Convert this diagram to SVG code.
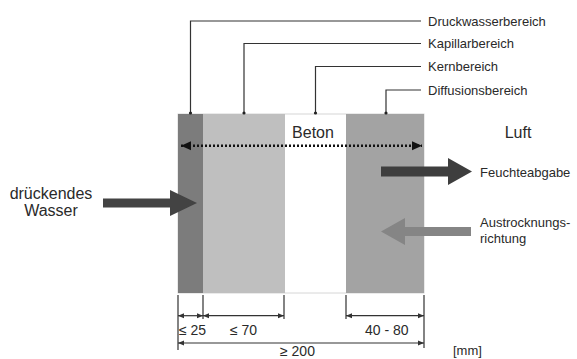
<svg xmlns="http://www.w3.org/2000/svg" width="577" height="359" viewBox="0 0 577 359">
<defs>
<style>
text{font-family:"Liberation Sans",Arial,sans-serif;fill:#2a2a2a}
.lbl{font-size:13px}
.big{font-size:16px}
.dim{font-size:14px}
.lead{fill:none;stroke:#333;stroke-width:1.2}
.dl{stroke:#333;stroke-width:1.2;fill:none}
</style>
<marker id="da" viewBox="0 0 6 6" refX="6" refY="3" markerWidth="6" markerHeight="6" markerUnits="userSpaceOnUse" orient="auto-start-reverse">
<path d="M0,0.5 L6,3 L0,5.5 Z" fill="#333"/>
</marker>
<marker id="ba" viewBox="0 0 10 10" refX="10" refY="5" markerWidth="10" markerHeight="10" markerUnits="userSpaceOnUse" orient="auto-start-reverse">
<path d="M0,0.5 L10,5 L0,9.5 Z" fill="#111"/>
</marker>
</defs>
<rect width="577" height="359" fill="#fff"/>
<g id="wall">
<rect x="178" y="114" width="246" height="179" fill="#fff" stroke="#d6d6d6" stroke-width="1"/>
<rect x="178" y="114" width="25" height="179" fill="#7c7c7c"/>
<rect x="203" y="114" width="82" height="179" fill="#bfbfbf"/>
<rect x="346" y="114" width="78" height="179" fill="#a3a3a3"/>
</g>
<g id="connectors">
<path class="lead" d="M190.5,114 V21 H421"/>
<path class="lead" d="M244,114 V43.5 H421"/>
<path class="lead" d="M315.5,114 V66.5 H421"/>
<path class="lead" d="M386,114 V90 H421"/>
<circle cx="190.5" cy="113" r="1.6" fill="#222"/>
<circle cx="244" cy="113" r="1.6" fill="#222"/>
<circle cx="315.5" cy="113" r="1.6" fill="#222"/>
<circle cx="386" cy="113" r="1.6" fill="#222"/>
<line x1="181" y1="145.7" x2="422" y2="145.7" stroke="#111" stroke-width="2.5" stroke-dasharray="2 2" marker-start="url(#ba)" marker-end="url(#ba)"/>
<path class="dl" d="M178,295 V350 M203,295 V319 M284,295 V319 M346,295 V319 M424,295 V348"/>
<line class="dl" x1="178" y1="315.7" x2="203" y2="315.7" marker-start="url(#da)" marker-end="url(#da)"/>
<line class="dl" x1="203" y1="315.7" x2="284" y2="315.7" marker-start="url(#da)" marker-end="url(#da)"/>
<line class="dl" x1="346" y1="315.7" x2="424" y2="315.7" marker-start="url(#da)" marker-end="url(#da)"/>
<line class="dl" x1="178" y1="343" x2="424" y2="343" marker-start="url(#da)" marker-end="url(#da)"/>
</g>
<g id="arrow-wasser"><polygon points="103,198.5 170,198.5 170,190 197,203 170,216 170,207.5 103,207.5" fill="#434343"/></g>
<g id="arrow-feuchte"><polygon points="381,166.5 448,166.5 448,158 472,171.5 448,185 448,176.5 381,176.5" fill="#3e3e3e"/></g>
<g id="arrow-austrocknung"><polygon points="471,227 405,227 405,218 381,231.5 405,245 405,236 471,236" fill="#858585"/></g>
<g id="labels">
<text class="lbl" x="428" y="25.5">Druckwasserbereich</text>
<text class="lbl" x="428" y="48">Kapillarbereich</text>
<text class="lbl" x="428" y="71">Kernbereich</text>
<text class="lbl" x="428" y="94.5">Diffusionsbereich</text>
<text class="big" x="313" y="138" text-anchor="middle">Beton</text>
<text class="big" x="518" y="138" text-anchor="middle">Luft</text>
<text class="big" x="51" y="199" text-anchor="middle">drückendes</text>
<text class="big" x="51" y="216" text-anchor="middle">Wasser</text>
<text class="lbl" x="480" y="177">Feuchteabgabe</text>
<text class="lbl" x="480" y="226.5">Austrocknungs-</text>
<text class="lbl" x="480" y="242.5">richtung</text>
<text class="dim" x="179" y="335">≤ 25</text>
<text class="dim" x="230" y="335">≤ 70</text>
<text class="dim" x="365" y="335">40 - 80</text>
<text class="dim" x="280" y="355.5">≥ 200</text>
<text class="lbl" x="453" y="355">[mm]</text>
</g>
</svg>
